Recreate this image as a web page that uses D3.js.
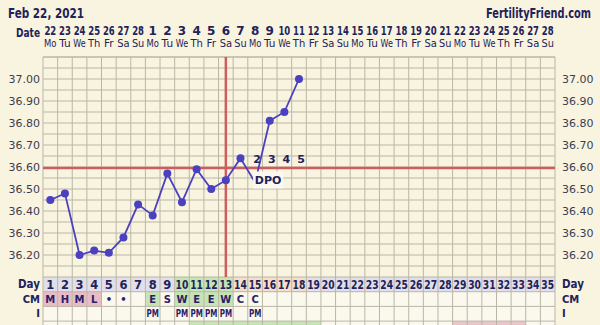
<!DOCTYPE html>
<html>
<head>
<meta charset="utf-8">
<script src="https://d3js.org/d3.v7.min.js"></script>
<style>
  body { margin: 0; background: #f9f4e0; }
  text { font-family: "DejaVu Sans", Verdana, sans-serif; }
</style>
</head>
<body>
<div id="viz"></div>
<script>
// chart data
var dates = ["22","23","24","25","26","27","28","1","2","3","4","5","6","7","8","9","10","11","12","13","14","15","16","17","18","19","20","21","22","23","24","25","26","27","28"];
var weekdays = ["Mo","Tu","We","Th","Fr","Sa","Su"];
var tempDays = [1,2,3,4,5,6,7,8,9,10,11,12,13,14,15,16,17,18];
var temps = [36.45,36.48,36.20,36.22,36.21,36.28,36.43,36.38,36.57,36.44,36.59,36.50,36.54,36.64,36.53,36.81,36.85,37.00];
var tempTicks = [36.20,36.30,36.40,36.50,36.60,36.70,36.80,36.90,37.00];
var coverline = 36.595;
var ovulationDay = 13;
var dpoDays = [15,16,17,18];
var dpoLabels = ["2","3","4","5"];
var cmValues = ["M","H","M","L","•","•","","E","S","W","E","E","W","C","C"];
var iValues = ["","","","","","","","PM","","PM","PM","PM","PM","","PM"];
var fertileDays = [10,11,12,13];
var lutealDays = [14,15,16,17,18];
var periodDays = [1,2,3,4];
var cmGreenDays = [8,10,11,12,13];
var greenBand = [11,12,13,14,15,16,17,18,19];
var pinkBand = [29,30,31,32,33];

var days = d3.range(1, 36);
var W = 600, H = 325;
var gLeft = 43, gRight = 555, gTop = 57, tempBottom = 277;
var rowH = 14.7;
var ink = "#22225a";
var gridCol = "#bab6a6";

var svg = d3.select("#viz").append("svg").attr("width", W).attr("height", H);
svg.append("rect").attr("width", W).attr("height", H).attr("fill", "#f9f4e0");

var x = d3.scaleBand().domain(days).range([gLeft, gRight]);
var y = d3.scaleLinear().domain([36.1, 37.1]).range([tempBottom, gTop]);
var cx = function (d) { return x(d) + x.bandwidth() / 2; };

// squeeze a text if it is wider than max
function fit(sel, max) {
  sel.each(function () {
    var len = this.getComputedTextLength();
    if (len > max) d3.select(this).attr("textLength", max).attr("lengthAdjust", "spacingAndGlyphs");
  });
}

// header
fit(svg.append("text").attr("x", 8).attr("y", 18).attr("font-size", 14).attr("font-weight", "bold")
  .attr("fill", ink).text("Feb 22, 2021"), 76);
fit(svg.append("text").attr("x", 591).attr("y", 18).attr("text-anchor", "end").attr("font-size", 13.5)
  .attr("font-weight", "bold").attr("fill", ink).text("FertilityFriend.com"), 105);
fit(svg.append("text").attr("x", 40).attr("y", 37).attr("text-anchor", "end").attr("font-size", 11.5)
  .attr("font-weight", "bold").attr("fill", ink).text("Date"), 24);

fit(svg.selectAll(".date").data(days).enter().append("text")
  .attr("x", cx).attr("y", 35).attr("text-anchor", "middle").attr("font-size", 12)
  .attr("font-weight", "bold").attr("fill", ink)
  .text(function (d) { return dates[d - 1]; }), 11.8);
fit(svg.selectAll(".wd").data(days).enter().append("text")
  .attr("x", cx).attr("y", 47).attr("text-anchor", "middle").attr("font-size", 10.5)
  .attr("fill", ink)
  .text(function (d) { return weekdays[(d - 1) % 7]; }), 12.4);

// temperature grid
var halfTicks = d3.range(36.15, 37.1, 0.05);
svg.selectAll(".hg").data(halfTicks).enter().append("line")
  .attr("x1", gLeft).attr("x2", gRight)
  .attr("y1", function (d) { return y(d); }).attr("y2", function (d) { return y(d); })
  .attr("stroke", gridCol).attr("stroke-width", 1);
svg.append("line").attr("x1", gLeft).attr("x2", gRight).attr("y1", gTop).attr("y2", gTop)
  .attr("stroke", gridCol);

// temp labels
svg.selectAll(".tl").data(tempTicks).enter().append("text")
  .attr("x", 40).attr("y", function (d) { return y(d) + 4; }).attr("text-anchor", "end")
  .attr("font-size", 11).attr("fill", "#3c3c50").text(function (d) { return d.toFixed(2); });
svg.selectAll(".tr").data(tempTicks).enter().append("text")
  .attr("x", 562).attr("y", function (d) { return y(d) + 4; })
  .attr("font-size", 11).attr("fill", "#3c3c50").text(function (d) { return d.toFixed(2); });

// rows below
var rows = ["Day", "CM", "I", ""];
function rowY(i) { return tempBottom + i * rowH; }

function fillRow(i, list, color) {
  svg.selectAll(null).data(list).enter().append("rect")
    .attr("x", function (d) { return x(d); }).attr("y", rowY(i))
    .attr("width", x.bandwidth()).attr("height", rowH).attr("fill", color);
}
fillRow(0, days, "#e1dfe9");
fillRow(1, days, "#fbf8ee");
fillRow(2, days, "#fbf8ee");
fillRow(3, days, "#fbf8ee");
fillRow(0, fertileDays, "#c6e5b4");
fillRow(0, lutealDays, "#f5dfc9");
fillRow(1, periodDays, "#e9bcc7");
fillRow(1, cmGreenDays, "#c6e5b4");
fillRow(3, greenBand, "#c6e5b4");
fillRow(3, pinkBand, "#ebc4cc");

// vertical grid over everything
svg.selectAll(".vg").data(d3.range(1, 37)).enter().append("line")
  .attr("x1", function (d) { return d <= 35 ? x(d) : gRight; })
  .attr("x2", function (d) { return d <= 35 ? x(d) : gRight; })
  .attr("y1", gTop).attr("y2", H)
  .attr("stroke", gridCol).attr("stroke-width", 1);
svg.selectAll(".rg").data(d3.range(0, 4)).enter().append("line")
  .attr("x1", gLeft).attr("x2", gRight)
  .attr("y1", function (d) { return rowY(d); }).attr("y2", function (d) { return rowY(d); })
  .attr("stroke", gridCol);

rows.forEach(function (r, i) {
  if (!r) return;
  var fs = i === 0 ? 11.5 : 10;
  fit(svg.append("text").attr("x", 40).attr("y", rowY(i) + 11).attr("text-anchor", "end")
    .attr("font-size", fs).attr("font-weight", "bold").attr("fill", ink).text(r), 22);
  fit(svg.append("text").attr("x", 562).attr("y", rowY(i) + 11)
    .attr("font-size", fs).attr("font-weight", "bold").attr("fill", ink).text(r), 22);
});

fit(svg.selectAll(".dn").data(days).enter().append("text")
  .attr("x", cx).attr("y", rowY(0) + 11.5).attr("text-anchor", "middle").attr("font-size", 11.5)
  .attr("font-weight", "bold").attr("fill", ink).text(function (d) { return d; }), 12.8);
svg.selectAll(".cm").data(cmValues).enter().append("text")
  .attr("x", function (d, i) { return cx(i + 1); }).attr("y", rowY(1) + 11).attr("text-anchor", "middle")
  .attr("font-size", 10).attr("font-weight", "bold").attr("fill", "#2a2266").text(function (d) { return d; });
fit(svg.selectAll(".iv").data(iValues).enter().append("text")
  .attr("x", function (d, i) { return cx(i + 1); }).attr("y", rowY(2) + 11).attr("text-anchor", "middle")
  .attr("font-size", 10).attr("font-weight", "bold").attr("fill", "#2a2266")
  .text(function (d) { return d; }), 12.4);

// coverline and ovulation line
svg.append("line").attr("x1", gLeft).attr("x2", gRight).attr("y1", y(coverline)).attr("y2", y(coverline))
  .attr("stroke", "#cf5d5d").attr("stroke-width", 2.5);
svg.append("line").attr("x1", cx(ovulationDay)).attr("x2", cx(ovulationDay)).attr("y1", gTop).attr("y2", tempBottom)
  .attr("stroke", "#cf5d5d").attr("stroke-width", 2.5);

// temperature line
var pts = tempDays.map(function (d, i) { return [cx(d), y(temps[i])]; });
svg.append("path").attr("d", d3.line()(pts)).attr("fill", "none")
  .attr("stroke", "#4a40c0").attr("stroke-width", 1.8);

// DPO label box
var dX = cx(dpoDays[0]) + 13, dY = y(temps[dpoDays[0] - 1]) - 2;
svg.append("rect").attr("x", dX - 15).attr("y", dY - 9).attr("width", 30).attr("height", 17)
  .attr("fill", "#fbf9ef");
svg.append("text").attr("x", dX).attr("y", dY + 4).attr("text-anchor", "middle")
  .attr("font-size", 11).attr("font-weight", "bold").attr("fill", ink).text("DPO");

svg.selectAll(".pt").data(pts.filter(function (p, i) { return tempDays[i] !== dpoDays[0]; }))
  .enter().append("circle")
  .attr("cx", function (p) { return p[0]; }).attr("cy", function (p) { return p[1]; })
  .attr("r", 4).attr("fill", "#4a40c0");

svg.selectAll(".dpo").data(dpoDays).enter().append("text")
  .attr("x", function (d) { return cx(d) + 2; }).attr("y", y(coverline) - 5).attr("text-anchor", "middle")
  .attr("font-size", 11).attr("font-weight", "bold").attr("fill", ink)
  .text(function (d, i) { return dpoLabels[i]; });
</script>
</body>
</html>
